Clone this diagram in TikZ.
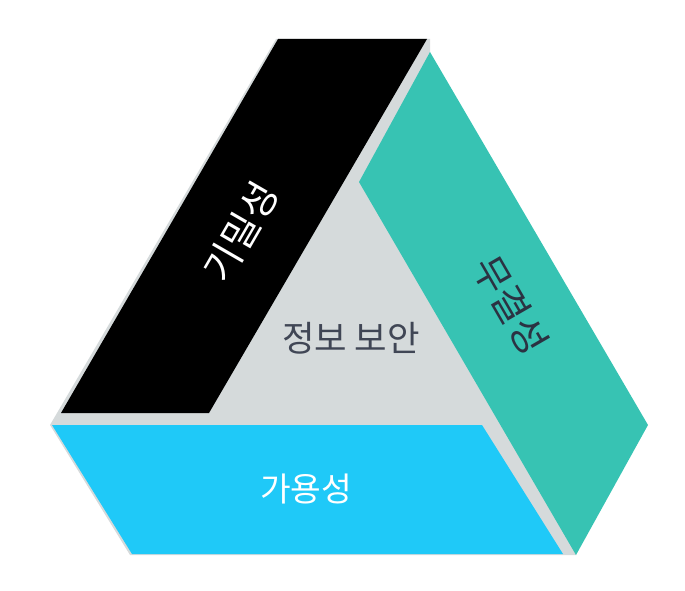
\documentclass[tikz,border=0pt]{standalone}
\usepackage{fontspec}
\usepackage{xcolor}
\newfontfamily\kofont{Noto Sans CJK KR}
\definecolor{base-gray}{HTML}{D5DADB}
\definecolor{teal-side}{HTML}{37C3B3}
\definecolor{cyan-side}{HTML}{1FC9F8}
\definecolor{label-dark}{HTML}{2B3242}
\tikzset{
    side-label/.style = {font=\kofont\fontsize{25}{30}\selectfont, text=white, inner sep=0pt},
    slant-label/.style = {side-label, font=\kofont\fontsize{29}{32}\selectfont},
    center-label/.style = {side-label, font=\kofont\fontsize{26.5}{30}\selectfont, text=label-dark!90!white},
}

\begin{document}
\begin{tikzpicture}[x=0.75pt, y=-0.75pt]
\useasboundingbox (0,0) rectangle (685,591);
% base triangle
\fill[base-gray] (276,39) -- (430,39) -- (430,52) -- (576,555) -- (130,555) -- (50,425) -- cycle;
% three sides
\fill[black] (278,39) -- (427,39) -- (209,413) -- (61,413) -- cycle;
\fill[teal-side] (430,52) -- (648,425) -- (576,555) -- (359,182) -- cycle;
\fill[cyan-side] (52,425) -- (482,425) -- (563,554) -- (132,554) -- cycle;
% labels
\node[slant-label, rotate=60] (secret) at (241,232) {기밀성};
\node[slant-label, rotate=-60, text=label-dark] (integrity) at (511,305) {무결성};
\node[side-label] (avail) at (306,489) {가용성};
\node[center-label] (infosec) at (351,338) {정보 보안};
\end{tikzpicture}
\end{document}
